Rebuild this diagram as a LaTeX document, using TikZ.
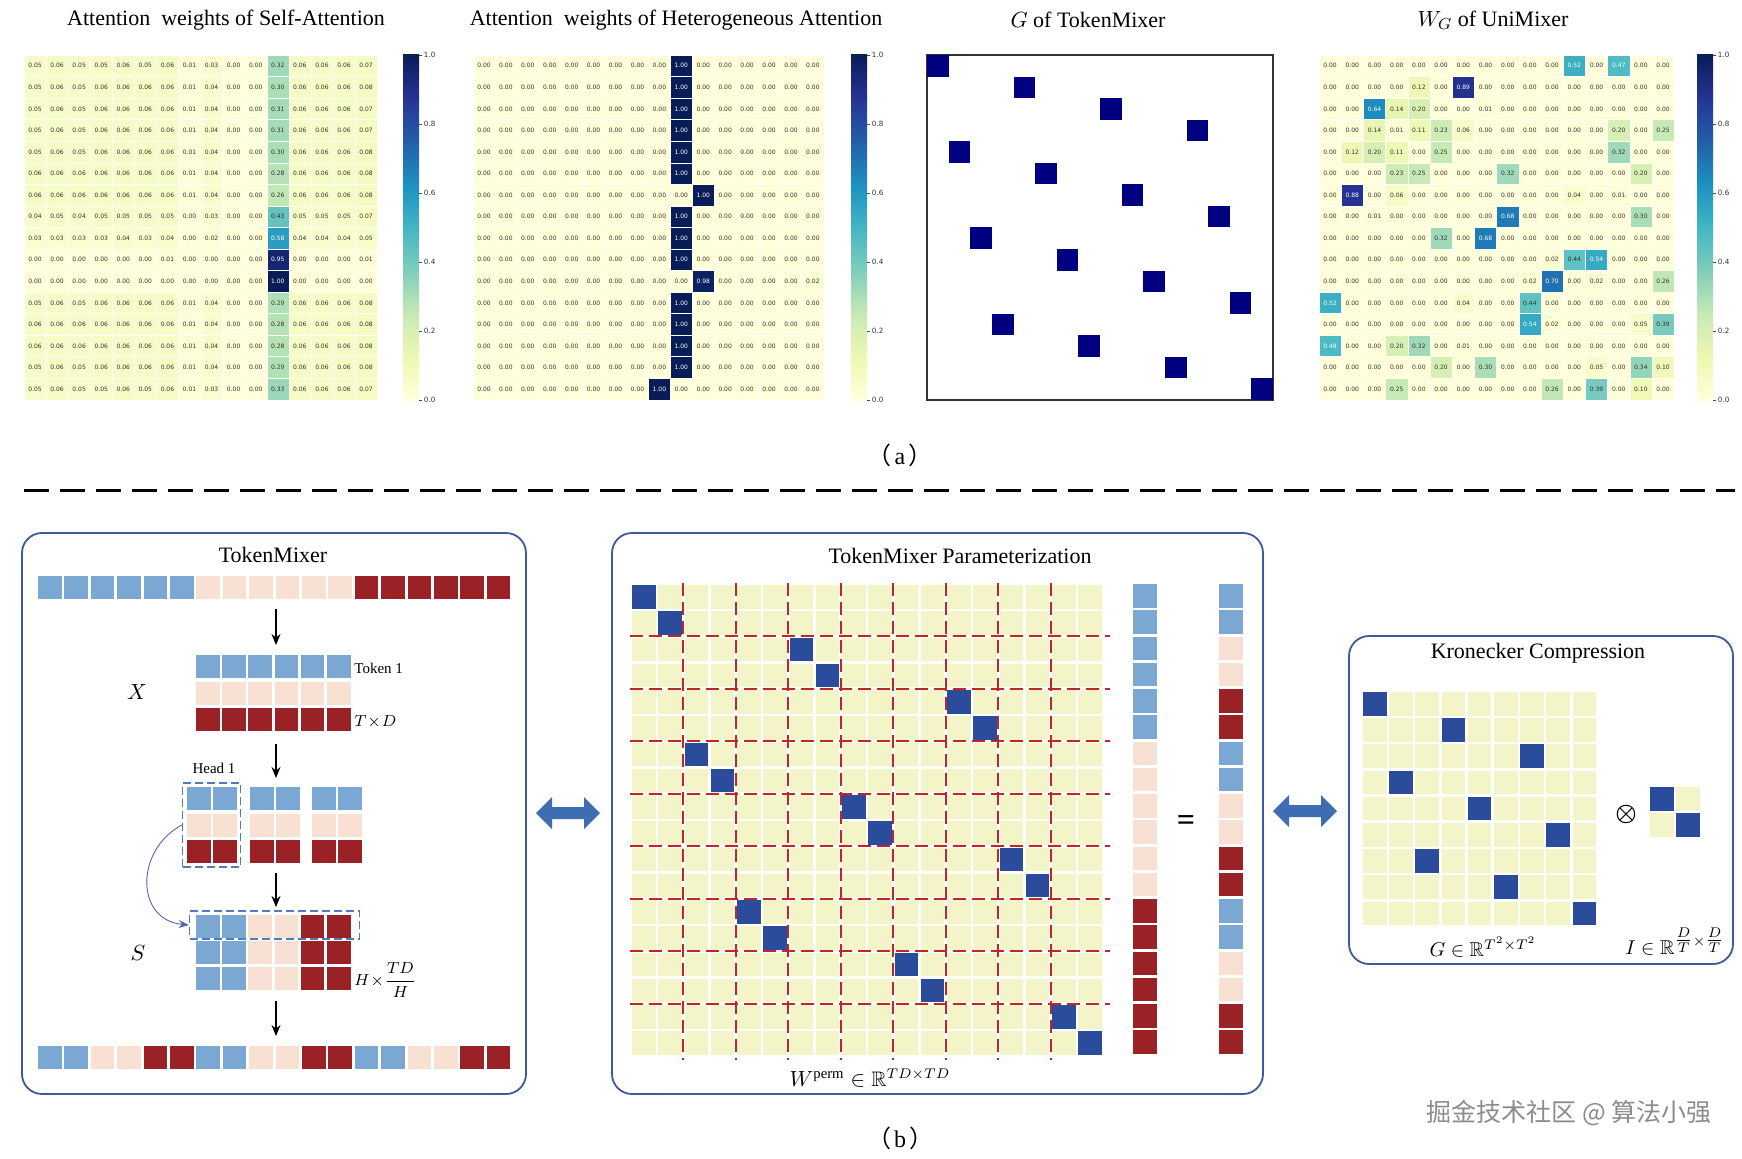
\documentclass[tikz,border=0pt]{standalone}
\usepackage{amsmath,amssymb,bm}
\usepackage{fontspec}
\setmainfont{Liberation Serif}
\newfontfamily\cellfont{DejaVu Sans}
\newfontfamily\cjkfont{Noto Sans CJK SC}
\usetikzlibrary{arrows.meta}

\definecolor{cm0}{HTML}{FFFFD9}
\definecolor{cm1}{HTML}{EDF8B1}
\definecolor{cm2}{HTML}{C7E9B4}
\definecolor{cm3}{HTML}{7FCDBB}
\definecolor{cm4}{HTML}{41B6C4}
\definecolor{cm5}{HTML}{1D91C0}
\definecolor{cm6}{HTML}{225EA8}
\definecolor{cm7}{HTML}{253494}
\definecolor{cm8}{HTML}{081D58}
\definecolor{tokB}{HTML}{7BA8D2}
\definecolor{tokP}{HTML}{F8E0D3}
\definecolor{tokR}{HTML}{9A2125}
\definecolor{matY}{HTML}{F3F4C7}
\definecolor{matB}{HTML}{2B4C9B}
\definecolor{panelB}{HTML}{3E5A9A}
\definecolor{arrB}{HTML}{3F6DB3}
\definecolor{gnavy}{HTML}{000080}
\definecolor{redd}{HTML}{C0252A}
\definecolor{dashB}{HTML}{4E7DBA}
\definecolor{curveB}{HTML}{5666B0}

\tikzset{
  celltext/.style={font=\cellfont\fontsize{3}{3.6}\selectfont, inner sep=0pt},
  ticktext/.style={font=\cellfont\fontsize{3.6}{4}\selectfont, inner sep=0pt, text=black!80},
  titletext/.style={font=\fontsize{11}{13}\selectfont, inner sep=0pt},
  smalltext/.style={font=\fontsize{7.5}{9}\selectfont, inner sep=0pt},
  panel/.style={draw=panelB, line width=0.9pt, rounded corners=10pt, inner sep=0pt},
  blackarr/.style={-{Stealth[length=5.5pt,width=4.5pt]}, line width=0.9pt, black},
  headbox/.style={draw=dashB, dash pattern=on 4pt off 2pt, line width=0.7pt, inner sep=0pt},
  reddash/.style={draw=redd, line width=0.85pt, dash pattern=on 6.5pt off 3pt},
  curvearr/.style={draw=curveB, line width=0.45pt, -{Stealth[length=5pt,width=4pt]}},
  lbl/.style={inner sep=0pt},
}

% heatmap: #1 x0, #2 y0, #3 cell w, #4 cell h, #5 name prefix, #6 data macro
\newcommand{\drawheat}[6]{%
  \foreach \rowdata [count=\hr from 0] in #6 {
    \foreach \v [count=\hc from 0] in \rowdata {
      \pgfmathsetmacro\hmT{\v*8}
      \pgfmathtruncatemacro\hmK{min(floor(\hmT),7)}
      \pgfmathtruncatemacro\hmKn{\hmK+1}
      \pgfmathtruncatemacro\hmF{round((\hmT-\hmK)*100)}
      \colorlet{hcell}{cm\hmKn!\hmF!cm\hmK}
      \ifdim\v pt>0.45pt \def\hmtxt{white}\else\def\hmtxt{black!80}\fi
      \fill[hcell] ({#1+\hc*#3},{#2+\hr*#4}) rectangle ++(#3,#4);
      \draw[white,line width=0.25pt] ({#1+\hc*#3},{#2+\hr*#4}) rectangle ++(#3,#4);
      \node[celltext,text=\hmtxt] (#5-\hr-\hc) at ({#1+(\hc+0.5)*#3},{#2+(\hr+0.5)*#4}) {\pgfmathprintnumber[fixed,fixed zerofill,precision=2,assume math mode=true]{\v}};
    }
  }
}

% colorbar: #1 x, #2 top, #3 w, #4 h, #5 name
\newcommand{\drawcbar}[5]{%
  \foreach \k in {0,...,7} {
    \pgfmathtruncatemacro\kn{\k+1}
    \shade[bottom color=cm\k, top color=cm\kn] ({#1},{#2+#4*(1-\kn/8)-0.4}) rectangle ({#1+#3},{#2+#4*(1-\k/8)});
  }
  \foreach \tk in {0,2,4,6,8,10} {
    \pgfmathsetmacro\tkv{\tk/10}
    \draw[black!70,line width=0.25pt] ({#1+#3},{#2+#4*(1-\tk/10)}) -- ++(3,0);
    \node[ticktext,anchor=west] (#5-\tk) at ({#1+#3+4.5},{#2+#4*(1-\tk/10)}) {\pgfmathprintnumber[fixed,fixed zerofill,precision=1,assume math mode=true]{\tkv}};
  }
}

% double block arrow centred at (#1,#2)
\newcommand{\dblarrow}[2]{%
  \fill[arrB] ({#1-32},#2) -- ({#1-16},{#2-16}) -- ({#1-16},{#2-6}) -- ({#1+16},{#2-6}) -- ({#1+16},{#2-16}) -- ({#1+32},#2) -- ({#1+16},{#2+16}) -- ({#1+16},{#2+6}) -- ({#1-16},{#2+6}) -- ({#1-16},{#2+16}) -- cycle;
}

\def\hmAdata{%
{0.05,0.06,0.05,0.05,0.06,0.05,0.06,0.01,0.03,0,0,0.32,0.06,0.06,0.06,0.07},%
{0.05,0.06,0.05,0.06,0.06,0.06,0.06,0.01,0.04,0,0,0.30,0.06,0.06,0.06,0.08},%
{0.05,0.06,0.05,0.06,0.06,0.06,0.06,0.01,0.04,0,0,0.31,0.06,0.06,0.06,0.07},%
{0.05,0.06,0.05,0.06,0.06,0.06,0.06,0.01,0.04,0,0,0.31,0.06,0.06,0.06,0.07},%
{0.05,0.06,0.05,0.06,0.06,0.06,0.06,0.01,0.04,0,0,0.30,0.06,0.06,0.06,0.08},%
{0.06,0.06,0.06,0.06,0.06,0.06,0.06,0.01,0.04,0,0,0.28,0.06,0.06,0.06,0.08},%
{0.06,0.06,0.06,0.06,0.06,0.06,0.06,0.01,0.04,0,0,0.26,0.06,0.06,0.06,0.08},%
{0.04,0.05,0.04,0.05,0.05,0.05,0.05,0,0.03,0,0,0.43,0.05,0.05,0.05,0.07},%
{0.03,0.03,0.03,0.03,0.04,0.03,0.04,0,0.02,0,0,0.58,0.04,0.04,0.04,0.05},%
{0,0,0,0,0,0,0.01,0,0,0,0,0.95,0,0,0,0.01},%
{0,0,0,0,0,0,0,0,0,0,0,1,0,0,0,0},%
{0.05,0.06,0.05,0.06,0.06,0.06,0.06,0.01,0.04,0,0,0.29,0.06,0.06,0.06,0.08},%
{0.06,0.06,0.06,0.06,0.06,0.06,0.06,0.01,0.04,0,0,0.28,0.06,0.06,0.06,0.08},%
{0.06,0.06,0.06,0.06,0.06,0.06,0.06,0.01,0.04,0,0,0.28,0.06,0.06,0.06,0.08},%
{0.05,0.06,0.05,0.06,0.06,0.06,0.06,0.01,0.04,0,0,0.29,0.06,0.06,0.06,0.08},%
{0.05,0.06,0.05,0.05,0.06,0.05,0.06,0.01,0.03,0,0,0.33,0.06,0.06,0.06,0.07}}

\def\hmBdata{%
{0,0,0,0,0,0,0,0,0,1,0,0,0,0,0,0},%
{0,0,0,0,0,0,0,0,0,1,0,0,0,0,0,0},%
{0,0,0,0,0,0,0,0,0,1,0,0,0,0,0,0},%
{0,0,0,0,0,0,0,0,0,1,0,0,0,0,0,0},%
{0,0,0,0,0,0,0,0,0,1,0,0,0,0,0,0},%
{0,0,0,0,0,0,0,0,0,1,0,0,0,0,0,0},%
{0,0,0,0,0,0,0,0,0,0,1,0,0,0,0,0},%
{0,0,0,0,0,0,0,0,0,1,0,0,0,0,0,0},%
{0,0,0,0,0,0,0,0,0,1,0,0,0,0,0,0},%
{0,0,0,0,0,0,0,0,0,1,0,0,0,0,0,0},%
{0,0,0,0,0,0,0,0,0,0,0.98,0,0,0,0,0.02},%
{0,0,0,0,0,0,0,0,0,1,0,0,0,0,0,0},%
{0,0,0,0,0,0,0,0,0,1,0,0,0,0,0,0},%
{0,0,0,0,0,0,0,0,0,1,0,0,0,0,0,0},%
{0,0,0,0,0,0,0,0,0,1,0,0,0,0,0,0},%
{0,0,0,0,0,0,0,0,1,0,0,0,0,0,0,0}}

\def\hmDdata{%
{0,0,0,0,0,0,0,0,0,0,0,0.52,0,0.47,0,0},%
{0,0,0,0,0.12,0,0.89,0,0,0,0,0,0,0,0,0},%
{0,0,0.64,0.14,0.20,0,0,0.01,0,0,0,0,0,0,0,0},%
{0,0,0.14,0.01,0.11,0.23,0.06,0,0,0,0,0,0,0.20,0,0.25},%
{0,0.12,0.20,0.11,0,0.25,0,0,0,0,0,0,0,0.32,0,0},%
{0,0,0,0.23,0.25,0,0,0,0.32,0,0,0,0,0,0.20,0},%
{0,0.88,0,0.06,0,0,0,0,0,0,0,0.04,0,0.01,0,0},%
{0,0,0.01,0,0,0,0,0,0.68,0,0,0,0,0,0.30,0},%
{0,0,0,0,0,0.32,0,0.68,0,0,0,0,0,0,0,0},%
{0,0,0,0,0,0,0,0,0,0,0.02,0.44,0.54,0,0,0},%
{0,0,0,0,0,0,0,0,0,0.02,0.70,0,0.02,0,0,0.26},%
{0.52,0,0,0,0,0,0.04,0,0,0.44,0,0,0,0,0,0},%
{0,0,0,0,0,0,0,0,0,0.54,0.02,0,0,0,0.05,0.39},%
{0.48,0,0,0.20,0.32,0,0.01,0,0,0,0,0,0,0,0,0},%
{0,0,0,0,0,0.20,0,0.30,0,0,0,0,0.05,0,0.34,0.10},%
{0,0,0,0.25,0,0,0,0,0,0,0.26,0,0.39,0,0.10,0}}

\begin{document}
\begin{tikzpicture}[x=0.5pt,y=-0.5pt]
\useasboundingbox (0,0) rectangle (1742,1158);
\fill[white] (0,0) rectangle (1742,1158);

% ---------------- (a) titles ----------------
\node[titletext] (t1) at (226,20) {Attention\ \ weights of Self-Attention};
\node[titletext] (t2) at (676,20) {Attention\ \ weights of Heterogeneous Attention};
\node[titletext] (t3) at (1088,20) {$G$ of TokenMixer};
\node[titletext] (t4) at (1493,20) {$W_G$ of UniMixer};

% ---------------- heatmaps ----------------
\drawheat{24}{55}{22.07}{21.55}{ha}{\hmAdata}
\drawcbar{403}{55}{16}{345}{cba}
\drawheat{473}{55}{21.93}{21.55}{hb}{\hmBdata}
\drawcbar{851}{55}{16}{345}{cbb}
\drawheat{1319}{55}{22.2}{21.55}{hd}{\hmDdata}
\drawcbar{1697}{55}{16}{345}{cbd}

% G of TokenMixer
\draw[black!80,line width=0.6pt] (927,55) rectangle (1273,400);
\foreach \r in {0,...,15} {
  \pgfmathtruncatemacro\gc{4*mod(\r,4)+floor(\r/4)}
  \fill[gnavy] ({927+\gc*21.625},{55+\r*21.56}) rectangle ++(21.625,21.56);
}

\node[lbl,font=\fontsize{12}{14}\selectfont] (laba) at (900,455) {{\cjkfont （}\hspace{1.5pt}a\hspace{1.5pt}{\cjkfont ）}};

% separator
\draw[black,line width=1.5pt,dash pattern=on 12.5pt off 5.5pt] (24,490) -- (1735,490);

% ---------------- panel 1: TokenMixer ----------------
\node[panel,minimum width=252pt,minimum height=280.5pt] (p1) at (274,813.5) {};
\node[titletext] (p1t) at (273,555) {TokenMixer};

\foreach \cc [count=\i from 0] in {tokB,tokB,tokB,tokB,tokB,tokB,tokP,tokP,tokP,tokP,tokP,tokP,tokR,tokR,tokR,tokR,tokR,tokR}
  \fill[\cc] ({38+\i*26.4},576) rectangle ++(23.5,23);

\coordinate (a1s) at (276,609); \coordinate (a1e) at (276,645);
\draw[blackarr] (a1s) -- (a1e);

\foreach \cc/\yy in {tokB/655,tokP/681.5,tokR/708}
  \foreach \j in {0,...,5}
    \fill[\cc] ({196+\j*26.2},\yy) rectangle ++(23.5,23);
\node[lbl,font=\fontsize{11}{12}\selectfont] (xl) at (137,692) {$X$};
\node[smalltext,anchor=west] (tok1) at (354,668) {Token 1};
\node[lbl,anchor=west,font=\fontsize{8.5}{10}\selectfont] (txd) at (354,722) {$T\!\times\! D$};

\coordinate (a2s) at (276,744); \coordinate (a2e) at (276,778);
\draw[blackarr] (a2s) -- (a2e);

\node[smalltext] (h1l) at (214,768) {Head 1};
\foreach \cc/\yy in {tokB/787,tokP/813.5,tokR/840}
  \foreach \gx in {187,250,312}
    \foreach \j in {0,1}
      \fill[\cc] ({\gx+\j*26.2},\yy) rectangle ++(23.5,23);
\node[headbox,minimum width=29pt,minimum height=42pt] (hbox) at (211.5,825) {};

\coordinate (a3s) at (276,873); \coordinate (a3e) at (276,907);
\draw[blackarr] (a3s) -- (a3e);

\foreach \yy in {915,941,967}
  \foreach \cc [count=\j from 0] in {tokB,tokB,tokP,tokP,tokR,tokR}
    \fill[\cc] ({196+\j*26.2},\yy) rectangle ++(23.5,23);
\node[headbox,minimum width=85pt,minimum height=14pt] (sbox) at (274.5,925) {};
\node[lbl,font=\fontsize{11}{12}\selectfont] (sl) at (138,953) {$S$};
\node[lbl,anchor=west,font=\fontsize{8.5}{10}\selectfont] (hth) at (354,980) {$H\!\times\!\dfrac{TD}{H}$};

\draw[curvearr] (hbox.west) .. controls (135,850) and (135,920) .. (sbox.west);

\coordinate (a4s) at (276,1001); \coordinate (a4e) at (276,1036);
\draw[blackarr] (a4s) -- (a4e);

\foreach \cc [count=\i from 0] in {tokB,tokB,tokP,tokP,tokR,tokR,tokB,tokB,tokP,tokP,tokR,tokR,tokB,tokB,tokP,tokP,tokR,tokR}
  \fill[\cc] ({38+\i*26.4},1046) rectangle ++(23.5,23);

% double arrows
\dblarrow{568}{813}
\dblarrow{1305}{811}

% ---------------- panel 2: Parameterization ----------------
\node[panel,minimum width=325.5pt,minimum height=280.5pt] (p2) at (937.5,813.5) {};
\node[titletext] (p2t) at (960,556) {TokenMixer Parameterization};

\foreach \i in {0,...,17}
  \foreach \j in {0,...,17}
    \fill[matY] ({632+\j*26.25},{585+\i*26.25}) rectangle ++(23.6,23.6);
\foreach \i in {0,...,17} {
  \pgfmathtruncatemacro\pp{floor(\i/2)}
  \pgfmathtruncatemacro\bc{2*(3*mod(\pp,3)+floor(\pp/3))+mod(\i,2)}
  \fill[matB] ({632+\bc*26.25},{585+\i*26.25}) rectangle ++(23.6,23.6);
}
\foreach \k in {1,...,8} {
  \draw[reddash] ({632+2*\k*26.25-1.3},583) -- ({632+2*\k*26.25-1.3},1060);
  \draw[reddash] (630,{585+2*\k*26.25-1.3}) -- (1110,{585+2*\k*26.25-1.3});
}
\node[lbl,font=\fontsize{10.5}{12}\selectfont] (wl) at (870,1078) {$W^{\mathrm{perm}}\in\mathbb{R}^{TD\times TD}$};

% vectors
\foreach \i in {0,...,17} {
  \pgfmathtruncatemacro\lc{floor(\i/6)}
  \ifcase\lc \def\vc{tokB}\or \def\vc{tokP}\else \def\vc{tokR}\fi
  \fill[\vc] (1133,{584+\i*26.25}) rectangle ++(24,23.6);
  \pgfmathtruncatemacro\rc{mod(floor(\i/2),3)}
  \ifcase\rc \def\vr{tokB}\or \def\vr{tokP}\else \def\vr{tokR}\fi
  \fill[\vr] (1219,{584+\i*26.25}) rectangle ++(24,23.6);
}
\node[lbl,font=\fontsize{16}{16}\selectfont\bfseries] (eq) at (1186,823) {=};

% ---------------- panel 3: Kronecker ----------------
\node[panel,minimum width=192pt,minimum height=164pt] (p3) at (1541,800) {};
\node[titletext] (p3t) at (1538,653) {Kronecker Compression};
\foreach \i in {0,...,8}
  \foreach \j in {0,...,8}
    \fill[matY] ({1363+\j*26.2},{692+\i*26.2}) rectangle ++(23.5,23.5);
\foreach \i in {0,...,8} {
  \pgfmathtruncatemacro\gc{3*mod(\i,3)+floor(\i/3)}
  \fill[matB] ({1363+\gc*26.2},{692+\i*26.2}) rectangle ++(23.5,23.5);
}
\node[lbl,font=\fontsize{13}{13}\selectfont] (ot) at (1626,814) {$\boldsymbol{\otimes}$};
\fill[matB] (1650,787) rectangle ++(23.5,23.5);
\fill[matY] (1676,787) rectangle ++(23.5,23.5);
\fill[matY] (1650,813) rectangle ++(23.5,23.5);
\fill[matB] (1676,813) rectangle ++(23.5,23.5);
\node[lbl,font=\fontsize{10}{12}\selectfont] (gl) at (1483,947) {$G\in\mathbb{R}^{T^2\times T^2}$};
\node[lbl,font=\fontsize{10}{12}\selectfont] (il) at (1675,942) {$I\in\mathbb{R}^{\genfrac{}{}{0.4pt}{1}{D}{T}\times\genfrac{}{}{0.4pt}{1}{D}{T}}$};

% ---------------- bottom labels ----------------
\node[lbl,font=\fontsize{12}{14}\selectfont] (labb) at (900,1138) {{\cjkfont （}\hspace{1.5pt}b\hspace{1.5pt}{\cjkfont ）}};
\node[lbl,font=\cjkfont\fontsize{12.5}{14}\selectfont,text=black!45] (wm) at (1569,1113) {掘金技术社区 @ 算法小强};
\end{tikzpicture}
\end{document}
